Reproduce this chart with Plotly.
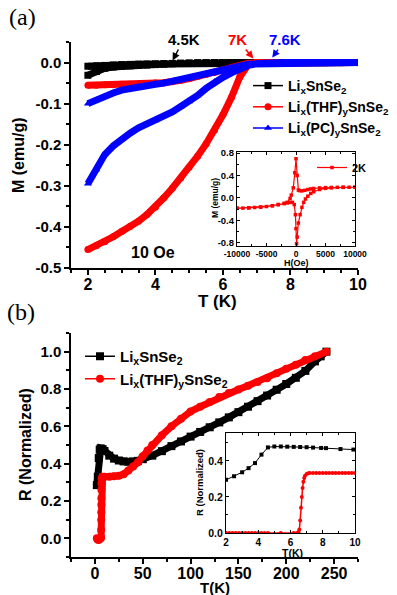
import plotly.graph_objects as go

# ---------------- data: panel (a) main, M vs T ----------------
T_a = [2.0, 2.25, 2.5, 2.75, 3.0, 3.25, 3.5, 3.75, 4.0, 4.25, 4.5, 4.75, 5.0, 5.25, 5.5,
       5.75, 6.0, 6.25, 6.5, 6.75, 7.0, 7.25, 7.5, 7.75, 8.0, 8.5, 9.0, 9.5, 10.0]
M_black_zfc = [-0.031, -0.022, -0.014, -0.011, -0.009, -0.008, -0.007, -0.006, -0.005, -0.004,
               -0.003, -0.002, -0.0015, -0.001, -0.001, -0.0005, -0.0005, 0, 0, 0, 0, 0, 0, 0, 0,
               0, 0, 0, 0]
M_black_fc = [-0.009, -0.008, -0.007, -0.006, -0.005, -0.0045, -0.004, -0.0035, -0.003, -0.0025,
              -0.002, -0.0015, -0.001, -0.0005, 0, 0, 0, 0, 0, 0, 0, 0, 0, 0, 0, 0, 0, 0, 0]
M_red_zfc = [-0.455, -0.446, -0.436, -0.424, -0.411, -0.399, -0.386, -0.37, -0.352, -0.329,
             -0.306, -0.281, -0.255, -0.228, -0.198, -0.165, -0.127, -0.085, -0.035, -0.005,
             0, 0, 0, 0, 0, 0, 0, 0, 0]
M_red_fc = [-0.055, -0.055, -0.054, -0.054, -0.053, -0.053, -0.052, -0.051, -0.05, -0.049,
            -0.047, -0.043, -0.039, -0.034, -0.029, -0.024, -0.019, -0.013, -0.007, -0.002,
            0, 0, 0, 0, 0, 0, 0, 0, 0]
M_blue_zfc = [-0.295, -0.26, -0.224, -0.203, -0.186, -0.172, -0.159, -0.15, -0.141, -0.131,
              -0.12, -0.107, -0.095, -0.08, -0.063, -0.047, -0.036, -0.025, -0.014, -0.007,
              -0.003, -0.001, 0, 0, 0, 0, 0, 0, 0]
M_blue_fc = [-0.1, -0.091, -0.082, -0.074, -0.067, -0.063, -0.059, -0.056, -0.053, -0.05,
             -0.047, -0.043, -0.039, -0.034, -0.029, -0.024, -0.019, -0.014, -0.009, -0.004,
             -0.001, 0, 0, 0, 0, 0, 0, 0, 0]

# ---------------- data: panel (a) inset, M vs H at 2K ----------------
H_desc = [10000, 9000, 8000, 7000, 6000, 5000, 4000, 3000, 2500, 2000, 1500, 1000, 600, 400,
          200, 0, -200, -460, -800, -1000, -1500, -2000, -3000, -4000, -5000, -6000, -7000,
          -8000, -9000, -10000]
M_desc = [0.19, 0.19, 0.19, 0.188, 0.186, 0.183, 0.178, 0.168, 0.16, 0.15, 0.135, 0.125, 0.13,
          0.14, 0.4, 0.7, 0.45, 0.18, 0.05, -0.01, -0.08, -0.1, -0.12, -0.14, -0.155, -0.165,
          -0.172, -0.178, -0.183, -0.187]
H_asc = [-10000, -8000, -6000, -4000, -3000, -2000, -1500, -1000, -600, -300, -100, 0, 100,
         200, 400, 700, 1000, 1300, 1600, 2000, 2500, 3000, 4000, 5000, 6000, 8000, 10000]
M_asc = [-0.187, -0.178, -0.165, -0.14, -0.12, -0.1, -0.09, -0.08, -0.08, -0.12, -0.3, -0.55,
         -0.82, -0.7, -0.45, -0.3, -0.17, -0.08, -0.02, 0.03, 0.08, 0.11, 0.15, 0.17, 0.18,
         0.188, 0.19]

# ---------------- data: panel (b) main, R vs T ----------------
T_b_black = [2, 3, 4, 5, 6, 8, 10, 15, 20, 25, 30, 35, 40, 45, 50, 60, 70, 80, 90, 100, 110,
             120, 130, 140, 150, 160, 170, 180, 190, 200, 210, 220, 230, 236, 242]
R_b_black = [0.285, 0.33, 0.43, 0.475, 0.482, 0.478, 0.468, 0.443, 0.427, 0.417, 0.412, 0.41,
             0.412, 0.415, 0.424, 0.443, 0.467, 0.494, 0.519, 0.545, 0.57, 0.595, 0.621, 0.648,
             0.676, 0.705, 0.735, 0.765, 0.796, 0.827, 0.86, 0.897, 0.948, 0.975, 1.0]
T_b_red = [2, 3, 4, 5, 6, 6.5, 6.55, 6.6, 6.65, 6.7, 6.75, 6.8, 6.85, 7, 8, 10, 15, 20, 25, 30,
           35, 40, 45, 50, 55, 60, 70, 80, 90, 100, 110, 120, 130, 140, 150, 160, 170, 180, 190,
           200, 210, 220, 230, 242]
R_b_red = [0.0, -0.008, -0.008, -0.005, 0.0, 0.005, 0.045, 0.1, 0.14, 0.18, 0.215, 0.26, 0.295,
           0.32, 0.33, 0.33, 0.33, 0.332, 0.335, 0.343, 0.363, 0.385, 0.407, 0.44, 0.47, 0.5,
           0.552, 0.6, 0.64, 0.68, 0.705, 0.73, 0.757, 0.778, 0.797, 0.818, 0.838, 0.858, 0.885,
           0.908, 0.93, 0.955, 0.975, 1.0]

# ---------------- data: panel (b) inset ----------------
T_ib_black = [2.0, 2.5, 3.0, 3.4, 3.8, 4.2, 4.6, 5.0, 5.4, 5.8, 6.2, 6.6, 7.0, 7.4, 7.9, 8.2,
              9.1, 9.9]
R_ib_black = [0.295, 0.315, 0.337, 0.36, 0.388, 0.435, 0.475, 0.48, 0.48, 0.479, 0.478, 0.477,
              0.476, 0.474, 0.472, 0.471, 0.466, 0.463]
T_ib_red = [2.0, 2.2, 2.4, 2.6, 2.8, 3.0, 3.2, 3.4, 3.6, 3.8, 4.0, 4.2, 4.4, 4.6, 5.4, 6.2, 6.4,
            6.5, 6.55, 6.6, 6.65, 6.7, 6.75, 6.8, 6.85, 6.9, 7.0, 7.1, 7.2, 7.4, 7.6, 7.8, 8.0,
            8.2, 8.4, 8.6, 8.8, 9.0, 9.2, 9.4, 9.6, 9.8, 10.0]
R_ib_red = [0, 0, 0, 0, 0, 0, 0, 0, 0, 0, 0, 0, 0, 0, 0, 0, 0,
            0.005, 0.02, 0.07, 0.14, 0.2, 0.25, 0.285, 0.305, 0.318, 0.327, 0.331, 0.333,
            0.333, 0.333, 0.333, 0.333, 0.333, 0.333, 0.333, 0.333, 0.333, 0.333, 0.333,
            0.333, 0.333, 0.333]

# ---------------- labels ----------------
names_a = ["Li<sub>x</sub>SnSe<sub>2</sub>", "Li<sub>x</sub>(THF)<sub>y</sub>SnSe<sub>2</sub>",
           "Li<sub>x</sub>(PC)<sub>y</sub>SnSe<sub>2</sub>"]
ticks_a_y = [0.0, -0.1, -0.2, -0.3, -0.4, -0.5]
ticktext_a_y = ["0.0", "-0.1", "-0.2", "-0.3", "-0.4", "-0.5"]
ticks_ia_x = [-10000, -5000, 0, 5000, 10000]
ticktext_ia_x = ["-10000", "-5000", "0", "5000", "10000"]
ticks_ia_y = [-0.8, -0.4, 0.0, 0.4, 0.8]
ticktext_ia_y = ["-0.8", "-0.4", "0.0", "0.4", "0.8"]

BLACK, RED, BLUE = "#000000", "#FF0000", "#0000FF"
FONT = "Liberation Sans, Arial, sans-serif"

fig = go.Figure()

def loop(t, zfc, fc):
    return t + t[::-1], zfc + fc[::-1]

series_a = [(M_black_zfc, M_black_fc, BLACK, "square"),
            (M_red_zfc, M_red_fc, RED, "circle"),
            (M_blue_zfc, M_blue_fc, BLUE, "triangle-up")]
for (zfc, fc, col, sym), nm in zip(series_a, names_a):
    xs, ys = loop(T_a, zfc, fc)
    fig.add_trace(go.Scatter(x=xs, y=ys, mode="lines", line=dict(color=col, width=7),
                             showlegend=False, xaxis="x", yaxis="y", hoverinfo="skip"))
    fig.add_trace(go.Scatter(x=xs, y=ys, mode="lines+markers", name=nm,
                             line=dict(color=col, width=1.5),
                             marker=dict(symbol=sym, size=7, color=col),
                             xaxis="x", yaxis="y", legend="legend"))

# inset (a)
fig.add_trace(go.Scatter(x=H_desc + H_asc, y=M_desc + M_asc, mode="lines+markers", name="2K",
                         line=dict(color=RED, width=1.2),
                         marker=dict(symbol="square", size=3.5, color=RED),
                         xaxis="x2", yaxis="y2", legend="legend2"))

# main (b)
for t, r, col, sym, nm in [(T_b_black, R_b_black, BLACK, "square", names_a[0]),
                           (T_b_red, R_b_red, RED, "circle", names_a[1])]:
    fig.add_trace(go.Scatter(x=t, y=r, mode="lines", line=dict(color=col, width=7),
                             showlegend=False, xaxis="x3", yaxis="y3", hoverinfo="skip"))
    fig.add_trace(go.Scatter(x=t, y=r, mode="lines+markers", name=nm,
                             line=dict(color=col, width=1.5),
                             marker=dict(symbol=sym, size=8, color=col),
                             xaxis="x3", yaxis="y3", legend="legend3"))

# inset (b)
fig.add_trace(go.Scatter(x=T_ib_black, y=R_ib_black, mode="lines+markers", showlegend=False,
                         line=dict(color=BLACK, width=1), marker=dict(symbol="square", size=4, color=BLACK),
                         xaxis="x4", yaxis="y4"))
fig.add_trace(go.Scatter(x=T_ib_red, y=R_ib_red, mode="lines+markers", showlegend=False,
                         line=dict(color=RED, width=1.5), marker=dict(symbol="circle", size=4, color=RED),
                         xaxis="x4", yaxis="y4"))

W, H = 397, 595
def xd(a, b):
    return [a / W, b / W]
def yd(top, bot):
    return [1 - bot / H, 1 - top / H]

def main_ax(**kw):
    d = dict(showline=True, linecolor=BLACK, linewidth=1.5, ticks="outside", ticklen=5,
             tickwidth=1.5, tickcolor=BLACK, showgrid=False, zeroline=False, automargin=False,
             tickfont=dict(family=FONT, size=15, color=BLACK, weight="bold"))
    d.update(kw)
    return d

def inset_ax(**kw):
    d = dict(showline=True, linecolor=BLACK, linewidth=1.2, mirror="allticks", ticks="inside",
             ticklen=3, tickwidth=1, tickcolor=BLACK, showgrid=False, zeroline=False,
             automargin=False,
             tickfont=dict(family=FONT, size=9.5, color=BLACK, weight="bold"))
    d.update(kw)
    return d

fig.update_layout(
    width=W, height=H, margin=dict(l=0, r=0, t=0, b=0, autoexpand=False),
    paper_bgcolor="white", plot_bgcolor="white", showlegend=True,
    xaxis=main_ax(domain=xd(71, 358), range=[1.5, 10], anchor="y", dtick=2, tick0=0,
                  ticklabelstandoff=-4,
                  tickfont=dict(family=FONT, size=16, color=BLACK, weight="bold"),
                  minor=dict(ticks="outside", ticklen=3, dtick=0.5, tick0=0, tickcolor=BLACK)),
    yaxis=main_ax(domain=yd(42, 268), range=[-0.5, 0.05], anchor="x", tickvals=ticks_a_y,
                  ticktext=ticktext_a_y,
                  minor=dict(ticks="outside", ticklen=3, dtick=0.05, tick0=0, tickcolor=BLACK)),
    xaxis2=inset_ax(domain=xd(237, 355), range=[-10000, 10000], anchor="y2",
                    tickvals=ticks_ia_x, ticktext=ticktext_ia_x,
                    tickfont=dict(family=FONT, size=8.5, color=BLACK, weight="bold"),
                    minor=dict(ticks="inside", ticklen=2, dtick=2500, tick0=0)),
    yaxis2=inset_ax(domain=yd(152, 246), range=[-0.86, 0.82], anchor="x2",
                    tickvals=ticks_ia_y, ticktext=ticktext_ia_y,
                    minor=dict(ticks="inside", ticklen=2, dtick=0.2, tick0=0)),
    xaxis3=main_ax(domain=xd(71, 358), range=[-25, 275], anchor="y3", dtick=50, tick0=0,
                   ticklabelstandoff=-4,
                   tickfont=dict(family=FONT, size=16, color=BLACK, weight="bold"),
                   minor=dict(ticks="outside", ticklen=3, dtick=25, tick0=0, tickcolor=BLACK)),
    yaxis3=main_ax(domain=yd(333, 557), range=[-0.1, 1.1], anchor="x3", dtick=0.2, tick0=0,
                   tickformat=".1f",
                   minor=dict(ticks="outside", ticklen=3, dtick=0.1, tick0=0, tickcolor=BLACK)),
    xaxis4=inset_ax(domain=xd(226, 355), range=[2, 10], anchor="y4", dtick=2, tick0=0,
                    tickfont=dict(family=FONT, size=10, color=BLACK, weight="bold"),
                    minor=dict(ticks="inside", ticklen=2, dtick=1, tick0=0)),
    yaxis4=inset_ax(domain=yd(433, 533), range=[0, 0.555], anchor="x4", dtick=0.2, tick0=0,
                    tickformat=".1f",
                    tickfont=dict(family=FONT, size=10.5, color=BLACK, weight="bold"),
                    minor=dict(ticks="inside", ticklen=2, dtick=0.1, tick0=0)),
    legend=dict(x=248 / W, y=1 - 70 / H, xanchor="left", yanchor="top", bgcolor="rgba(0,0,0,0)",
                font=dict(family=FONT, size=14, color=BLACK, weight="bold"), itemwidth=30,
                tracegroupgap=0),
    legend2=dict(x=312 / W, y=1 - 153 / H, xanchor="left", yanchor="top", bgcolor="rgba(0,0,0,0)",
                 font=dict(family=FONT, size=11, color=BLACK, weight="bold"), itemwidth=30),
    legend3=dict(x=80 / W, y=1 - 340 / H, xanchor="left", yanchor="top", bgcolor="rgba(0,0,0,0)",
                 font=dict(family=FONT, size=15, color=BLACK, weight="bold"), itemwidth=30,
                 tracegroupgap=0),
)

def txt(x, y, s, size, angle=0, color=BLACK, family=FONT, bold=True):
    fig.add_annotation(x=x / W, y=1 - y / H, xref="paper", yref="paper", text=s, showarrow=False,
                       textangle=angle, xanchor="center", yanchor="middle",
                       font=dict(family=family, size=size, color=color,
                                 weight="bold" if bold else "normal"))

txt(22, 17, "(a)", 24, family="Liberation Serif, Times New Roman, serif", bold=False)
txt(21, 312, "(b)", 24, family="Liberation Serif, Times New Roman, serif", bold=False)
txt(19, 155, "M (emu/g)", 16, angle=-90)
txt(217, 301, "T (K)", 17)
txt(25, 445, "R (Normalized)", 16, angle=-90)
txt(215, 587, "T(K)", 15)
txt(153, 252, "10 Oe", 16)
txt(296, 263, "H(Oe)", 9)
txt(215, 198, "M (emu/g)", 8.5, angle=-90)
txt(199, 483, "R (Normalized)", 9.5, angle=-90)
txt(292, 553, "T(K)", 10.5)

for (tx, ty, s, col, axo, ayo) in [(4.51, 0.005, "4.5K", BLACK, 11, -21),
                                   (6.9, 0.01, "7K", RED, -16, -19),
                                   (7.46, 0.012, "7.6K", BLUE, 13, -18)]:
    fig.add_annotation(x=tx, y=ty, xref="x", yref="y", text=s, showarrow=True, ax=axo, ay=ayo,
                       arrowhead=2, arrowsize=1, arrowwidth=1.5, arrowcolor=col,
                       font=dict(family=FONT, size=15, color=col, weight="bold"))

fig.write_html("out.html", config={"displayModeBar": False},
               post_script="document.body.style.margin='0';document.body.style.padding='0';"
                           "document.documentElement.style.overflow='hidden';")
